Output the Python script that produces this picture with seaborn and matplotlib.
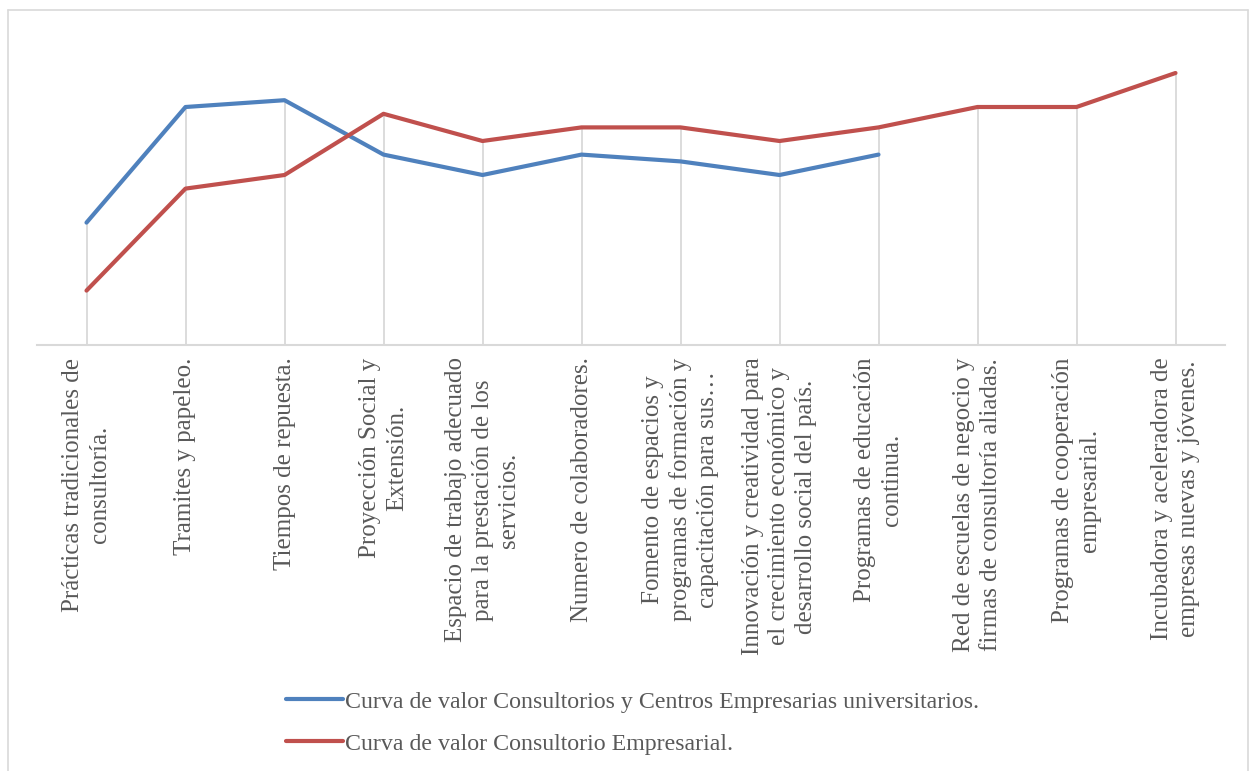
import numpy as np
import pandas as pd
import matplotlib
matplotlib.use("Agg")
import matplotlib.pyplot as plt
from matplotlib.lines import Line2D
import seaborn as sns

categories = [
    "Prácticas tradicionales de\nconsultoría.",
    "Tramites y papeleo.",
    "Tiempos de repuesta.",
    "Proyección Social y\nExtensión.",
    "Espacio de trabajo adecuado\npara la prestación de los\nservicios.",
    "Numero de colaboradores.",
    "Fomento de espacios y\nprogramas de formación y\ncapacitación para sus…",
    "Innovación y creatividad para\nel crecimiento económico y\ndesarrollo social del país.",
    "Programas de educación\ncontinua.",
    "Red de escuelas de negocio y\nfirmas de consultoría aliadas.",
    "Programas de cooperación\nempresarial.",
    "Incubadora y aceleradora de\nempresas nuevas y jóvenes.",
]
series_names = [
    "Curva de valor Consultorios y Centros Empresarias universitarios.",
    "Curva de valor Consultorio Empresarial.",
]
blue_values = [18, 35, 36, 28, 25, 28, 27, 25, 28, np.nan, np.nan, np.nan]
red_values = [8, 23, 25, 34, 30, 32, 32, 30, 32, 35, 35, 40]

BLUE = "#4F81BD"
RED = "#C0504D"
GRID = "#D9D9D9"
TEXT = "#595959"

sns.set_theme(style="white")
plt.rcParams["font.family"] = ["Liberation Serif", "DejaVu Serif"]

W, H = 1250, 771
fig = plt.figure(figsize=(W / 100, H / 100), dpi=100)
ax = fig.add_axes([37 / W, 1 - 345 / H, (1225 - 37) / W, (345 - 39) / H])

x = np.arange(len(categories))
df = pd.DataFrame({
    "x": np.concatenate([x, x]),
    "value": blue_values + red_values,
    "series": [series_names[0]] * len(x) + [series_names[1]] * len(x),
})

# drop lines from highest point of each category to axis
maxvals = np.nanmax(np.vstack([blue_values, red_values]), axis=0)
ax.vlines(x, 0, maxvals, color=GRID, lw=1.3, zorder=1)

sns.lineplot(data=df, x="x", y="value", hue="series", hue_order=series_names,
             palette=[BLUE, RED], lw=3.0, ax=ax, legend=False, zorder=3,
             solid_capstyle="round", solid_joinstyle="round")

ax.set_xlim(-0.5, len(categories) - 0.5)
ax.set_ylim(0, 45)
ax.set_xlabel("")
ax.set_ylabel("")
ax.set_yticks([])
ax.set_xticks(x)
ax.set_xticklabels(categories, rotation=90, ha="center", va="top",
                   multialignment="center", fontsize=18, color=TEXT,
                   linespacing=1.27)
ax.tick_params(axis="x", length=0, pad=9)
for s in ["top", "right", "left"]:
    ax.spines[s].set_visible(False)
ax.spines["bottom"].set_color(GRID)
ax.spines["bottom"].set_linewidth(1.5)

handles = [Line2D([0], [0], color=BLUE, lw=3.0, solid_capstyle="round"),
           Line2D([0], [0], color=RED, lw=3.0, solid_capstyle="round")]
fig.legend(handles, series_names, loc="upper left",
           bbox_to_anchor=(286 / W, 1 - 691 / H), frameon=False,
           fontsize=17.2, labelcolor=TEXT, handlelength=2.4,
           handletextpad=0.05, labelspacing=0.84, borderaxespad=0,
           borderpad=0)

# outer chart border
for (xs, ys) in [([8 / W, 8 / W], [0, 1 - 10 / H]),
                 ([8 / W, 1248 / W], [1 - 10 / H, 1 - 10 / H]),
                 ([1248 / W, 1248 / W], [0, 1 - 10 / H])]:
    fig.add_artist(Line2D(xs, ys, color=GRID, lw=1.2, transform=fig.transFigure))

fig.savefig("out.png", dpi=100)
